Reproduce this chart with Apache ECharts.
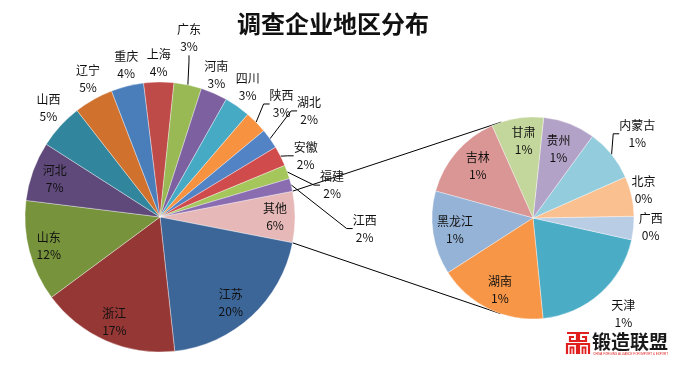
<!DOCTYPE html>
<html><head><meta charset="utf-8">
<script src="https://cdn.jsdelivr.net/npm/echarts@6/dist/echarts.min.js"></script>
<style>html,body{margin:0;padding:0;background:#fff}#c{width:680px;height:365px}</style>
</head><body><div id="c"></div>
<script>
// ---------- data ----------
const titleText = '调查企业地区分布';
const otherName = '其他';
const mainNames = ['江苏','浙江','山东','河北','山西','辽宁','重庆','上海','广东','河南','四川','陕西','湖北','安徽','福建','江西'];
const mainValues = [20.2,16.6,12.1,7.1,5.4,4.7,3.9,3.6,3.3,3.2,3.1,2.7,2.4,2.4,1.65,1.53];
const subNames = ['天津','广西','北京','内蒙古','贵州','甘肃','吉林','黑龙江','湖南'];
const subValues = [1.22,0.23,0.39,0.51,0.51,0.51,0.86,0.82,1.07];
const logoText = '锻造联盟';
const logoSub = 'CHINA FORGING ALLIANCE FOR IMPORT & EXPORT';

// ---------- styles ----------
const FONT = '"Noto Sans CJK SC","Microsoft YaHei",sans-serif';
const MAIN = {cx:160, cy:217, r:135};
const SUB = {cx:533, cy:218, r:101};
const SUB_START = 275.7;
const mainColors = {
  '其他':'#E6B9B8','江苏':'#3C6598','浙江':'#953735','山东':'#77933C','河北':'#5F497A','山西':'#31859C',
  '辽宁':'#D0722E','重庆':'#4A7EBB','上海':'#BE4B48','广东':'#98B954','河南':'#7D60A0','四川':'#46AAC5',
  '陕西':'#F69240','湖北':'#5283C4','安徽':'#D04B4B','福建':'#A4C65B','江西':'#8A6CB0'
};
const subColors = {
  '天津':'#4BACC6','广西':'#B9CDE5','北京':'#FAC090','内蒙古':'#93CDDD','贵州':'#B3A2C7',
  '甘肃':'#C3D69B','吉林':'#D99694','黑龙江':'#95B3D7','湖南':'#F79646'
};
// label placement: [distance from centre, angle offset from slice middle (deg)]
const mainPlace = {'其他':[115,0],'江苏':[111,-3],'浙江':[114,0],'山东':[115,0],'河北':[112,0],
  '山西':[156,-2],'辽宁':[156,-2],'重庆':[156,-1.5],'上海':[154,0],'广东':[181,2.7],'河南':[153,2],
  '四川':[157,1],'陕西':[166,-1.7],'湖北':[183,0],'安徽':[158,-4],'福建':[175,-9],'江西':[205,-17]};
const mainLeader = ['广东','陕西','湖北','安徽','福建','江西'];
const subPlace = {'天津':[132,1.6],'广西':[118,1.3],'北京':[114,1.7],'内蒙古':[134,0],'贵州':[74,1],
  '甘肃':[78,-2],'吉林':[76,-2.6],'黑龙江':[79,0],'湖南':[79,1]};
const subLeader = ['内蒙古'];

// ---------- derived ----------
const sum = a => a.reduce((s,v)=>s+v,0);
const otherValue = sum(subValues);
const grandTotal = sum(mainValues) + otherValue;
const pieMainNames = [otherName].concat(mainNames);
const pieMainValues = [otherValue].concat(mainValues);
const mainStart = otherValue / grandTotal * 360 / 2;

function midAngles(values, start, clockwise){
  const t = sum(values); let a = start;
  return values.map(v => { const s = v/t*360; const m = clockwise ? a - s/2 : a + s/2; a = clockwise ? a - s : a + s; return m; });
}
const mainMid = midAngles(pieMainValues, mainStart, true);
const subMid = midAngles(subValues, SUB_START, false);

function layoutFn(names, mids, place, geo){
  return function(p){
    const n = names[p.dataIndex]; const pl = place[n];
    const a = (mids[p.dataIndex] + pl[1]) * Math.PI / 180;
    return {x: geo.cx + pl[0]*Math.cos(a), y: geo.cy - pl[0]*Math.sin(a), align:'center', verticalAlign:'middle'};
  };
}
const fmt = p => p.name + '\n' + Math.round(p.value / grandTotal * 100) + '%';
const labelStyle = {show:true, position:'outside', formatter: fmt, fontFamily: FONT, fontSize:12, lineHeight:17, color:'#111'};

function buildData(names, values, colors, leaders){
  return names.map((n,i)=>({
    name:n, value:values[i], itemStyle:{color:colors[n]},
    labelLine:{show: leaders.indexOf(n) >= 0}
  }));
}

// connector lines (tangents from 其他 corners to the secondary pie)
const h = mainStart * Math.PI / 180;
function tangent(P, upper){
  const dx = P[0]-SUB.cx, dy = P[1]-SUB.cy; const d = Math.hypot(dx,dy);
  const th = Math.atan2(dy,dx), al = Math.acos(SUB.r/d);
  const c = [th+al, th-al].map(t => [SUB.cx + SUB.r*Math.cos(t), SUB.cy + SUB.r*Math.sin(t)]);
  c.sort((A,B)=>A[1]-B[1]);
  return upper ? c[0] : c[1];
}
const pUp = [MAIN.cx + MAIN.r*Math.cos(h), MAIN.cy - MAIN.r*Math.sin(h)];
const pDn = [MAIN.cx + MAIN.r*Math.cos(h), MAIN.cy + MAIN.r*Math.sin(h)];
const tUp = tangent(pUp, true), tDn = tangent(pDn, false);

const chart = echarts.init(document.getElementById('c'), null, {renderer:'canvas'});
chart.setOption({
  backgroundColor:'#fff',
  animation:false,
  series:[
    {
      type:'pie', center:[MAIN.cx, MAIN.cy], radius:[0, MAIN.r],
      startAngle: mainStart, clockwise:true, avoidLabelOverlap:false,
      itemStyle:{borderColor:'rgba(255,255,255,0.6)', borderWidth:0.6},
      label: labelStyle,
      labelLine:{length:10, length2:6, lineStyle:{color:'#000', width:1}},
      labelLayout: layoutFn(pieMainNames, mainMid, mainPlace, MAIN),
      emphasis:{disabled:true},
      data: buildData(pieMainNames, pieMainValues, mainColors, mainLeader)
    },
    {
      type:'pie', center:[SUB.cx, SUB.cy], radius:[0, SUB.r],
      startAngle: SUB_START, clockwise:false, avoidLabelOverlap:false,
      itemStyle:{borderColor:'rgba(255,255,255,0.6)', borderWidth:0.6},
      label: labelStyle,
      labelLine:{length:10, length2:6, lineStyle:{color:'#000', width:1}},
      labelLayout: layoutFn(subNames, subMid, subPlace, SUB),
      emphasis:{disabled:true},
      data: buildData(subNames, subValues, subColors, subLeader)
    }
  ],
  graphic:[
    {type:'text', x:333, y:24, style:{text:titleText, font:'bold 24px '+FONT, fill:'#111', textAlign:'center', textVerticalAlign:'middle'}},
    {type:'line', shape:{x1:pUp[0], y1:pUp[1], x2:tUp[0], y2:tUp[1]}, style:{stroke:'#000', lineWidth:1}},
    {type:'line', shape:{x1:pDn[0], y1:pDn[1], x2:tDn[0], y2:tDn[1]}, style:{stroke:'#000', lineWidth:1}},
    {type:'group', children:[
      {type:'polyline', shape:{points:[[567,333],[577,333],[577,341],[570,341],[570,337],[574,337]]}, style:{stroke:'#E0201E', lineWidth:2.2, fill:null}},
      {type:'polyline', shape:{points:[[589,333],[579,333],[579,341],[586,341],[586,337],[582,337]]}, style:{stroke:'#E0201E', lineWidth:2.2, fill:null}},
      {type:'polyline', shape:{points:[[567,354],[567,344],[577,344],[577,354]]}, style:{stroke:'#E0201E', lineWidth:2.2, fill:null}},
      {type:'polyline', shape:{points:[[570.5,354],[570.5,347.5],[573.5,347.5],[573.5,354]]}, style:{stroke:'#E0201E', lineWidth:1.8, fill:null}},
      {type:'polyline', shape:{points:[[579,354],[579,344],[589,344],[589,354]]}, style:{stroke:'#E0201E', lineWidth:2.2, fill:null}},
      {type:'polyline', shape:{points:[[582.5,354],[582.5,347.5],[585.5,347.5],[585.5,354]]}, style:{stroke:'#E0201E', lineWidth:1.8, fill:null}},
      {type:'text', x:592, y:342, style:{text:logoText, font:'bold 19px '+FONT, fill:'#1a1a1a', textVerticalAlign:'middle'}},
      {type:'text', x:593, y:354, style:{text:logoSub, font:'3px Arial', fill:'#E0201E', textVerticalAlign:'middle'}}
    ]}
  ]
});
</script></body></html>
